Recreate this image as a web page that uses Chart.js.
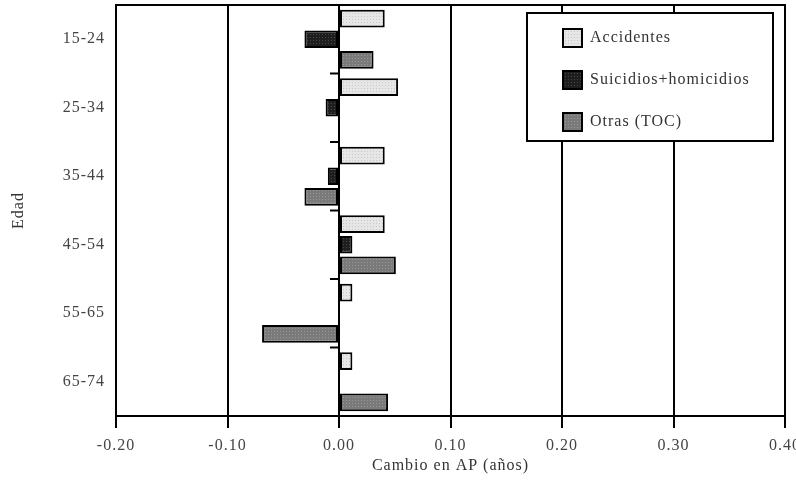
<!DOCTYPE html>
<html>
<head>
<meta charset="utf-8">
<script src="https://cdn.jsdelivr.net/npm/chart.js@4"></script>
<style>
  body { margin: 0; background: #fff; }
  #wrap { width: 796px; height: 480px; }
</style>
</head>
<body>
<div id="wrap"><canvas id="chart"></canvas></div>
<script>
// grupos de edad y cambio en AP por causa
const edades = ["15-24", "25-34", "35-44", "45-54", "55-65", "65-74"];
const accidentes = [0.041, 0.053, 0.041, 0.041, 0.012, 0.012];
const suicidios = [-0.031, -0.012, -0.010, 0.012, 0, 0];
const otras = [0.031, 0, -0.031, 0.051, -0.069, 0.044];
const ticksX = [-0.2, -0.1, 0, 0.1, 0.2, 0.3, 0.4];

const fuente = "'Liberation Serif', 'DejaVu Serif', serif";

// relleno punteado para las barras
function trama(base, punto) {
  const c = document.createElement("canvas");
  c.width = 3; c.height = 3;
  const g = c.getContext("2d");
  g.fillStyle = base;
  g.fillRect(0, 0, 3, 3);
  g.fillStyle = punto;
  g.fillRect(1, 1, 1, 1);
  return g.createPattern(c, "repeat");
}

const colores = [
  trama("#e6e6e6", "#c8c8c8"),
  trama("#1e1e1e", "#444444"),
  trama("#7a7a7a", "#9a9a9a"),
];

// letras algo espaciadas, como en la fuente original
const espaciado = {
  id: "espaciado",
  beforeDraw(chart) { chart.ctx.letterSpacing = "1px"; }
};

// marco, marcas en el cero y leyenda dentro del grafico
const extras = {
  id: "extras",
  afterDraw(chart) {
    const ctx = chart.ctx;
    const a = chart.chartArea;
    const x = chart.scales.x;
    const y = chart.scales.y;
    ctx.save();
    ctx.strokeStyle = "#000";
    ctx.lineWidth = 2;
    ctx.strokeRect(a.left, a.top, a.right - a.left, a.bottom - a.top);

    const x0 = x.getPixelForValue(0);
    for (let i = 1; i < edades.length; i++) {
      const yy = (y.getPixelForTick(i - 1) + y.getPixelForTick(i)) / 2;
      ctx.beginPath();
      ctx.moveTo(x0 - 9, yy);
      ctx.lineTo(x0, yy);
      ctx.stroke();
    }

    // leyenda
    ctx.fillStyle = "#fff";
    ctx.fillRect(527, 13, 246, 128);
    ctx.strokeRect(527, 13, 246, 128);
    ctx.font = "16px " + fuente;
    ctx.letterSpacing = "1px";
    ctx.textBaseline = "middle";
    chart.data.datasets.forEach((ds, i) => {
      const cy = 38 + i * 42;
      ctx.fillStyle = ds.backgroundColor;
      ctx.fillRect(563, cy - 9, 19, 18);
      ctx.strokeRect(563, cy - 9, 19, 18);
      ctx.fillStyle = "#333";
      ctx.fillText(ds.label, 590, cy);
    });
    ctx.restore();
  }
};

new Chart(document.querySelector("#chart"), {
  type: "bar",
  data: {
    labels: edades,
    datasets: [
      { label: "Accidentes", data: accidentes, backgroundColor: colores[0] },
      { label: "Suicidios+homicidios", data: suicidios, backgroundColor: colores[1] },
      { label: "Otras (TOC)", data: otras, backgroundColor: colores[2] },
    ],
  },
  options: {
    indexAxis: "y",
    responsive: true,
    maintainAspectRatio: false,
    animation: false,
    devicePixelRatio: 1,
    layout: { padding: { top: 5, right: 11, left: 0, bottom: 0 } },
    datasets: {
      bar: {
        borderColor: "#000",
        borderWidth: 2,
        borderSkipped: false,
        categoryPercentage: 0.9,
        barPercentage: 0.86,
      },
    },
    plugins: {
      legend: { display: false },
      tooltip: { enabled: false },
    },
    scales: {
      x: {
        min: -0.2,
        max: 0.4,
        afterBuildTicks: (s) => { s.ticks = ticksX.map((v) => ({ value: v })); },
        afterFit: (s) => {
          s.height = 64;
          s.paddingLeft = 0;
          s.paddingRight = 0;
        },
        grid: { color: "#000", lineWidth: 2, tickLength: 12, drawTicks: true },
        border: { color: "#000", width: 2 },
        ticks: {
          color: "#444",
          font: { family: fuente, size: 16 },
          padding: 8,
          maxRotation: 0,
          callback: (v) => v.toFixed(2),
        },
        title: {
          display: true,
          text: "Cambio en AP (años)",
          color: "#333",
          font: { family: fuente, size: 16 },
          padding: { top: 2, bottom: 5 },
        },
      },
      y: {
        afterFit: (s) => {
          s.width = 116;
          s.paddingTop = 0;
          s.paddingBottom = 0;
        },
        grid: { display: false },
        border: { display: false },
        ticks: {
          color: "#444",
          font: { family: fuente, size: 16 },
          padding: 3,
        },
        title: {
          display: true,
          text: "Edad",
          color: "#333",
          font: { family: fuente, size: 16 },
          padding: { top: 9, bottom: 0 },
        },
      },
    },
  },
  plugins: [espaciado, extras],
});
</script>
</body>
</html>
